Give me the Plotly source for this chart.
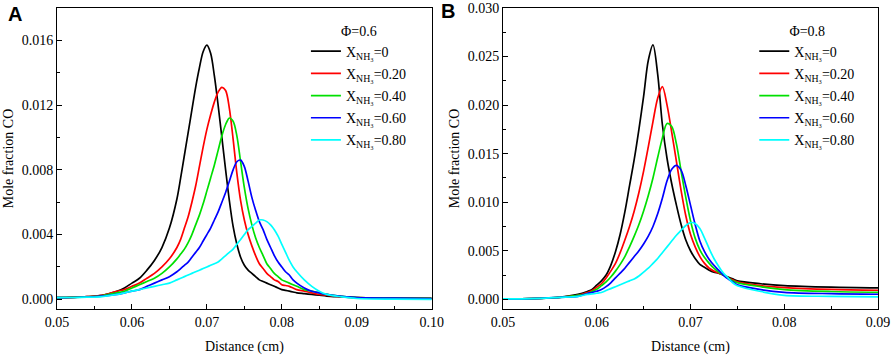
import plotly.graph_objects as go

# ---------------- Panel A (Phi = 0.6) ----------------
a_x = [0.050, 0.052, 0.054, 0.056, 0.058, 0.059, 0.060, 0.061, 0.062, 0.063, 0.064, 0.065,
       0.0660, 0.0665, 0.0670, 0.0675, 0.0680, 0.0685, 0.0690, 0.0695, 0.0700, 0.0705, 0.0710,
       0.0715, 0.0720, 0.0725, 0.0730, 0.0735, 0.0740, 0.0745, 0.0750, 0.0755, 0.0760, 0.0765,
       0.0770, 0.0775, 0.0780, 0.0785, 0.0790, 0.0795, 0.0800, 0.0805, 0.0810, 0.0815, 0.0820,
       0.083, 0.084, 0.085, 0.086, 0.088, 0.090, 0.095, 0.100]
a_y0 = [0.0001, 0.00012, 0.00016, 0.00025, 0.0005, 0.0007, 0.0010, 0.0013, 0.0018, 0.0024, 0.0032, 0.0044,
        0.0062, 0.0075, 0.0089, 0.0103, 0.0117, 0.0131, 0.0143, 0.0153, 0.0157, 0.0152, 0.0138,
        0.0120, 0.0100, 0.0080, 0.0061, 0.0045, 0.0034, 0.0026, 0.0021, 0.0018, 0.0016, 0.0014,
        0.0012, 0.0011, 0.0010, 0.0009, 0.0008, 0.0007, 0.0006, 0.00055, 0.0005, 0.00045, 0.0004,
        0.00035, 0.0003, 0.00025, 0.0002, 0.00015, 0.0001, 0.00008, 0.00006]
a_y20 = [0.0001, 0.00012, 0.00016, 0.00024, 0.0005, 0.0006, 0.0008, 0.0010, 0.0013, 0.0016, 0.0020, 0.0025,
         0.0032, 0.0037, 0.0044, 0.0051, 0.0060, 0.0070, 0.0082, 0.0094, 0.0105, 0.0114, 0.0122,
         0.0128, 0.0131, 0.0129, 0.0118, 0.0099, 0.0078, 0.0061, 0.0049, 0.0040, 0.0033, 0.0027,
         0.0022, 0.0019, 0.0016, 0.0014, 0.0012, 0.0011, 0.0009, 0.00085, 0.0008, 0.0007, 0.0006,
         0.0005, 0.0004, 0.0003, 0.00025, 0.00015, 0.0001, 0.00008, 0.00006]
a_y40 = [0.0001, 0.00012, 0.00015, 0.00022, 0.0004, 0.0005, 0.0007, 0.0009, 0.0011, 0.0013, 0.0016, 0.0020,
         0.0025, 0.0028, 0.0031, 0.0035, 0.0040, 0.0046, 0.0052, 0.0059, 0.0067, 0.0075, 0.0083,
         0.0092, 0.0101, 0.0108, 0.0112, 0.0110, 0.0101, 0.0085, 0.0069, 0.0056, 0.0046, 0.0038,
         0.0032, 0.0027, 0.0022, 0.0019, 0.0016, 0.0014, 0.0012, 0.0011, 0.0010, 0.0009, 0.0008,
         0.0006, 0.0005, 0.0004, 0.0003, 0.00018, 0.0001, 0.00008, 0.00006]
a_y60 = [0.0001, 0.00011, 0.00014, 0.0002, 0.0003, 0.0004, 0.0005, 0.0006, 0.0008, 0.0010, 0.0012, 0.0014,
         0.0017, 0.0019, 0.0021, 0.0023, 0.0026, 0.0029, 0.0032, 0.0036, 0.0040, 0.0044, 0.0049,
         0.0054, 0.0060, 0.0066, 0.0073, 0.0080, 0.0085, 0.0086, 0.0082, 0.0073, 0.0063, 0.0055,
         0.0048, 0.0043, 0.0037, 0.0032, 0.0027, 0.0023, 0.0020, 0.0017, 0.0015, 0.0012, 0.0010,
         0.0007, 0.0005, 0.0004, 0.0003, 0.00018, 0.0001, 0.00007, 0.00005]
a_y80 = [0.0001, 0.00011, 0.00013, 0.00017, 0.0003, 0.0004, 0.0005, 0.0006, 0.0007, 0.0008, 0.0009, 0.0010,
         0.0012, 0.0013, 0.0014, 0.0015, 0.0016, 0.0017, 0.0018, 0.0019, 0.0020, 0.0021, 0.0022,
         0.0023, 0.0025, 0.0027, 0.0029, 0.0031, 0.0034, 0.0037, 0.0040, 0.0043, 0.0045, 0.0047,
         0.0049, 0.0049, 0.0048, 0.0046, 0.0043, 0.0039, 0.0034, 0.0029, 0.0024, 0.0020, 0.0017,
         0.0012, 0.0008, 0.0005, 0.0003, 0.00015, 0.00005, 0.00001, 0.0]

# ---------------- Panel B (Phi = 0.8) ----------------
b_x = [0.050, 0.052, 0.054, 0.056, 0.058, 0.059, 0.0595,
       0.0600, 0.0605, 0.0610, 0.0615, 0.0620, 0.0625, 0.0630, 0.0635, 0.0640, 0.0645, 0.0650,
       0.0655, 0.0660, 0.0665, 0.0670, 0.0675, 0.0680, 0.0685, 0.0690, 0.0695, 0.0700, 0.0705,
       0.0710, 0.0715, 0.0720, 0.0725, 0.0730, 0.0735, 0.0740, 0.0745, 0.0750,
       0.0775, 0.080, 0.085, 0.090]
b_y0 = [0.00005, 0.00005, 0.0001, 0.0002, 0.0005, 0.0008, 0.0010,
        0.00145, 0.0019, 0.0025, 0.0035, 0.0049, 0.0067, 0.0090, 0.0117, 0.0144, 0.0175, 0.0209,
        0.0246, 0.0262, 0.0232, 0.0180, 0.0145, 0.0119, 0.0097, 0.0077, 0.0061, 0.0050, 0.0042,
        0.0036, 0.0033, 0.0030, 0.0028, 0.0027, 0.0025, 0.0023, 0.0021, 0.0019,
        0.0016, 0.00141, 0.00125, 0.00117]
b_y20 = [0.00005, 0.00005, 0.0001, 0.0002, 0.0004, 0.0007, 0.0009,
         0.00124, 0.0016, 0.0022, 0.0029, 0.0037, 0.0048, 0.0061, 0.0075, 0.0091, 0.0110, 0.0132,
         0.0157, 0.0183, 0.0207, 0.0219, 0.0200, 0.0172, 0.0142, 0.0112, 0.0086, 0.0067, 0.0054,
         0.0044, 0.0037, 0.0032, 0.0029, 0.0027, 0.0025, 0.0022, 0.0020, 0.0018,
         0.0014, 0.00121, 0.00102, 0.00093]
b_y40 = [0.00005, 0.00005, 0.0001, 0.0002, 0.0004, 0.0006, 0.0008,
         0.00103, 0.0014, 0.0018, 0.0023, 0.0029, 0.0036, 0.0044, 0.0054, 0.0065, 0.0077, 0.0091,
         0.0107, 0.0125, 0.0146, 0.0166, 0.0181, 0.0178, 0.0160, 0.0132, 0.0105, 0.0081, 0.0063,
         0.0051, 0.0043, 0.0037, 0.0032, 0.0028, 0.0025, 0.0022, 0.0019, 0.0017,
         0.0013, 0.0010, 0.0008, 0.00072]
b_y60 = [0.00005, 0.00005, 0.0001, 0.0002, 0.0003, 0.0006, 0.0007,
         0.00083, 0.0010, 0.0013, 0.0017, 0.0022, 0.0027, 0.0032, 0.0038, 0.0044, 0.0050, 0.0057,
         0.0065, 0.0075, 0.0088, 0.0104, 0.0122, 0.0134, 0.0138, 0.0133, 0.0117, 0.0097, 0.0077,
         0.0060, 0.0049, 0.0041, 0.0035, 0.0030, 0.0025, 0.0021, 0.0018, 0.0015,
         0.0010, 0.00072, 0.00058, 0.00052]
b_y80 = [0.00005, 0.00005, 0.0001, 0.0002, 0.0003, 0.0005, 0.00055,
         0.00062, 0.0007, 0.0009, 0.0011, 0.0013, 0.0015, 0.0017, 0.0019, 0.0021, 0.0024, 0.0028,
         0.0032, 0.0037, 0.0042, 0.0048, 0.0054, 0.0060, 0.0066, 0.0071, 0.0076, 0.0079, 0.0078,
         0.0073, 0.0063, 0.0052, 0.0042, 0.0034, 0.0027, 0.0022, 0.0017, 0.0014,
         0.0008, 0.00041, 0.0003, 0.00024]

series_labels = ["X<sub>NH₃</sub>=0", "X<sub>NH₃</sub>=0.20", "X<sub>NH₃</sub>=0.40",
                 "X<sub>NH₃</sub>=0.60", "X<sub>NH₃</sub>=0.80"]
colors = ["#000000", "#ff0000", "#00e000", "#0000ff", "#00ffff"]

panel_a = [a_y0, a_y20, a_y40, a_y60, a_y80]
panel_b = [b_y0, b_y20, b_y40, b_y60, b_y80]

SERIF = "Liberation Serif"
fig = go.Figure()

for i, ys in enumerate(panel_a):
    fig.add_trace(go.Scatter(x=a_x, y=ys, mode="lines", name=series_labels[i],
                             line=dict(color=colors[i], width=1.7, shape="spline", smoothing=0.9),
                             xaxis="x", yaxis="y", legend="legend", legendgroup="a%d" % i))
for i, ys in enumerate(panel_b):
    fig.add_trace(go.Scatter(x=b_x, y=ys, mode="lines", name=series_labels[i],
                             line=dict(color=colors[i], width=1.7, shape="spline", smoothing=0.9),
                             xaxis="x2", yaxis="y2", legend="legend2", legendgroup="b%d" % i))

axis_common = dict(showline=True, linecolor="black", linewidth=1, mirror=True,
                   ticks="inside", ticklen=5, tickwidth=1, tickcolor="black",
                   showgrid=False, zeroline=False, automargin=False,
                   tickfont=dict(family=SERIF, size=14, color="black"))

fig.update_layout(
    width=892, height=357, template="none",
    margin=dict(l=57, r=14, t=8, b=48),
    paper_bgcolor="white", plot_bgcolor="white",
    font=dict(family=SERIF, size=14, color="black"),
    xaxis=dict(domain=[0, 0.4564], range=[0.05, 0.10], dtick=0.01, tick0=0.05, tickformat=".2f",
               minor=dict(dtick=0.005, ticks="inside", ticklen=3, tickcolor="black"),
               title=dict(text="Distance (cm)", font=dict(family=SERIF, size=14), standoff=12),
               anchor="y", **axis_common),
    yaxis=dict(domain=[0, 1], range=[-0.0006, 0.018], tickvals=[0, 0.004, 0.008, 0.012, 0.016],
               tickformat=".3f",
               minor=dict(tickvals=[0.002, 0.006, 0.010, 0.014, 0.018], ticks="inside", ticklen=3, tickcolor="black"),
               title=dict(text="Mole fraction CO", font=dict(family=SERIF, size=14), standoff=4),
               anchor="x", **axis_common),
    xaxis2=dict(domain=[0.5432, 1.0], range=[0.05, 0.09], dtick=0.01, tick0=0.05, tickformat=".2f",
                minor=dict(dtick=0.005, ticks="inside", ticklen=3, tickcolor="black"),
                title=dict(text="Distance (cm)", font=dict(family=SERIF, size=14), standoff=12),
                anchor="y2", **axis_common),
    yaxis2=dict(domain=[0, 1], range=[-0.001, 0.030], dtick=0.005, tick0=0, tickformat=".3f",
                minor=dict(dtick=0.0025, ticks="inside", ticklen=3, tickcolor="black"),
                title=dict(text="Mole fraction CO", font=dict(family=SERIF, size=14), standoff=4),
                anchor="x2", **axis_common),
    legend=dict(x=0.3032, y=0.969, xanchor="left", yanchor="top", bgcolor="rgba(0,0,0,0)",
                font=dict(family=SERIF, size=14), tracegroupgap=1,
                title=dict(text="Φ=0.6", side="top center", font=dict(family=SERIF, size=14))),
    legend2=dict(x=0.8493, y=0.969, xanchor="left", yanchor="top", bgcolor="rgba(0,0,0,0)",
                 font=dict(family=SERIF, size=14), tracegroupgap=1,
                 title=dict(text="Φ=0.8", side="top center", font=dict(family=SERIF, size=14))),
    annotations=[
        dict(text="<b>A</b>", xref="paper", yref="paper", x=-0.0512, y=0.980, showarrow=False,
             xanchor="center", yanchor="middle", font=dict(family="Liberation Sans", size=20, color="black")),
        dict(text="<b>B</b>", xref="paper", yref="paper", x=0.4762, y=0.990, showarrow=False,
             xanchor="center", yanchor="middle", font=dict(family="Liberation Sans", size=20, color="black")),
    ],
)

fig.write_html("out.html", config={"displayModeBar": False},
               post_script="document.body.style.margin='0';document.body.style.overflow='hidden';")
